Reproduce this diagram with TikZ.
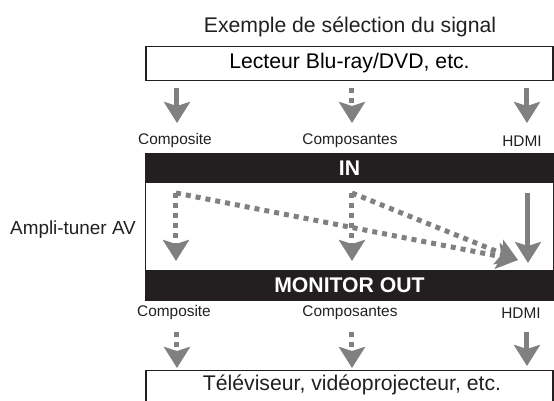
\documentclass[tikz,border=0pt]{standalone}
\usepackage{fontspec}
\setmainfont{Liberation Sans}
\usepackage{xcolor}
\usetikzlibrary{arrows.meta}
\definecolor{sgray}{RGB}{128,128,128}
\definecolor{ink}{RGB}{35,31,32}

\begin{document}
\begin{tikzpicture}[x=0.5pt,y=-0.5pt,
  sig/.style={draw=sgray,line width=2.5pt,-{Stealth[length=10.5pt,width=13pt,inset=2pt]}},
  dsig/.style={sig,dash pattern=on 2.5pt off 2.5pt},
  box/.style={draw=ink,line width=0.6pt,minimum width=203.5pt,minimum height=17pt,inner sep=0pt,font=\fontsize{10.6}{12}\selectfont},
  bar/.style={fill=ink,text=white,minimum width=203.5pt,inner sep=0pt,font=\fontsize{10.6}{12}\selectfont\bfseries},
  lab/.style={text=ink,inner sep=0pt,font=\fontsize{7.7}{9}\selectfont}]
\useasboundingbox (0,0) rectangle (554,401);
\clip (0,0) rectangle (554,401);
\node[text=ink,font=\fontsize{10.6}{12}\selectfont] (title) at (350,27) {Exemple de sélection du signal};
\node[box] (player) at (349.5,63.5) {Lecteur Blu-ray/DVD, etc.};
\node[lab] (cpi) at (175,141) {Composite};
\node[lab] (cmi) at (350,141) {Composantes};
\node[lab] (hdi) at (522,141) {HDMI};
\node[bar,minimum height=14.5pt] (in) at (349.5,168.5) {IN};
\node[bar,minimum height=15pt] (out) at (349.5,285) {MONITOR OUT};
\draw[ink,line width=0.5pt] (in.north west) rectangle (out.south east);
\node[text=ink,font=\fontsize{9.45}{11}\selectfont] (amp) at (73,230) {Ampli-tuner AV};
\node[lab] (cpo) at (174,313) {Composite};
\node[lab] (cmo) at (350,313) {Composantes};
\node[lab] (hdo) at (521,313) {HDMI};
\node[box,minimum height=50pt,anchor=north] (tv) at (349.5,370) {};
\node[text=ink,font=\fontsize{10.6}{12}\selectfont] (tvtext) at (352,385) {Téléviseur, vidéoprojecteur, etc.};
\coordinate (a1) at (177,88);
\coordinate (a2) at (352,88);
\coordinate (a3) at (527,88);
\coordinate (b1) at (177,123);
\coordinate (b2) at (352,123);
\coordinate (b3) at (527,123);
\coordinate (c1) at (176,193);
\coordinate (c2) at (352,193);
\coordinate (c3) at (528,193);
\coordinate (d1) at (176,261);
\coordinate (d2) at (352,261);
\coordinate (d3) at (528,263);
\coordinate (m) at (518,260);
\coordinate (e1) at (177,332);
\coordinate (e2) at (352,332);
\coordinate (e3) at (527,332);
\coordinate (f1) at (177,368);
\coordinate (f2) at (352,368);
\coordinate (f3) at (527,366);
\draw[sig] (a1) -- (b1);
\draw[dsig] (a2) -- (b2);
\draw[sig] (a3) -- (b3);
\draw[dsig] (c1) -- (d1);
\draw[dsig] (c2) -- (d2);
\draw[sig] (c3) -- (d3);
\draw[dsig] (c1) -- (m);
\draw[dsig] (c2) -- (m);
\draw[dsig] (e1) -- (f1);
\draw[dsig] (e2) -- (f2);
\draw[sig] (e3) -- (f3);
\end{tikzpicture}
\end{document}
